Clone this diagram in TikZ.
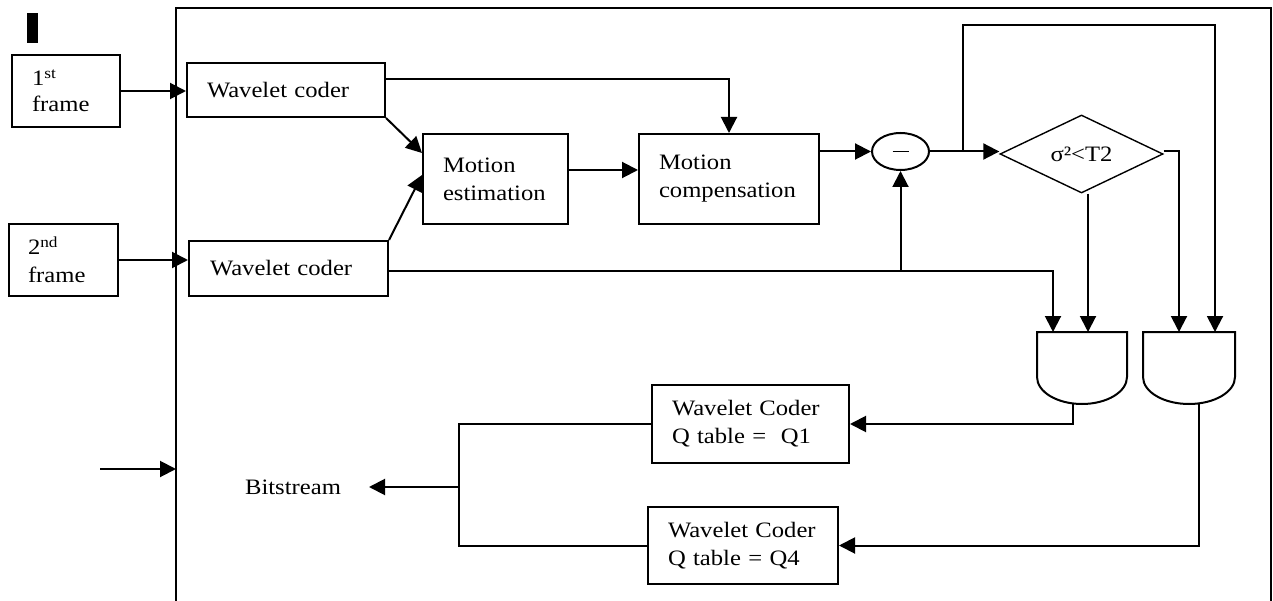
\documentclass[tikz,border=0pt]{standalone}
\usepackage{fontspec}
\setmainfont{Liberation Serif}[FakeStretch=1.12]
\usetikzlibrary{arrows.meta,shapes.geometric}
\begin{document}
\begin{tikzpicture}[x=1pt,y=-1pt,
  font=\fontsize{22}{28}\selectfont,
  line width=2pt,
  arr/.style={-{Triangle[length=16pt,width=16pt]}},
  blk/.style={draw, rectangle, align=left, inner ysep=0pt},
  gate/.style={draw, line width=2pt}]
\useasboundingbox (0,0) rectangle (1273,601);
% outer frame
\draw (176,601) -- (176,8) -- (1271,8) -- (1271,601);
\fill (27,13) rectangle (38,43);
% boxes
\node[blk, inner xsep=20pt, text width=68pt, minimum height=72pt] (f1) at (66,91) {\raisebox{-3pt}{1\textsuperscript{st}}\\[-2pt]\raisebox{-3pt}{frame}};
\node[blk, inner xsep=19pt, text width=71pt, minimum height=72pt] (f2) at (63.5,260) {2\textsuperscript{nd}\\frame};
\node[blk, inner xsep=20pt, text width=158pt, minimum height=54pt] (wc1) at (286,90) {Wavelet coder};
\node[blk, inner xsep=21pt, text width=157pt, minimum height=55pt] (wc2) at (288.5,268.5) {Wavelet coder};
\node[blk, inner xsep=20pt, text width=105pt, minimum height=90pt] (me) at (495.5,179) {Motion\\estimation};
\node[blk, inner xsep=20pt, text width=140pt, minimum height=90pt] (mc) at (729,179) {Motion\\compensation};
\node[draw, ellipse, minimum width=57pt, minimum height=37pt, inner sep=0pt] (sub) at (900.5,151.5) {\rule[0pt]{16pt}{1pt}};
\node[draw, diamond, minimum width=163pt, minimum height=78pt, inner sep=0pt, aspect=2.09, line width=1.4pt] (dia) at (1081.5,154) {σ²<T2};
\node[blk, inner xsep=20pt, text width=157pt, minimum height=78pt] (q1) at (750.5,424) {Wavelet Coder\\Q table = \ Q1};
\node[blk, inner xsep=20pt, text width=150pt, minimum height=77pt] (q4) at (743,545.5) {Wavelet Coder\\Q table = Q4};
\node[inner sep=0pt] (bits) at (293,487) {Bitstream};
% gates
\draw[gate] (1037,332) -- (1127,332) -- (1127,377) arc[start angle=0,end angle=-180,x radius=45pt,y radius=27pt] -- cycle;
\draw[gate] (1143,332) -- (1235,332) -- (1235,377) arc[start angle=0,end angle=-180,x radius=46pt,y radius=27pt] -- cycle;
\coordinate (g1a) at (1053,332);
\coordinate (g1b) at (1088,332);
\coordinate (g1o) at (1073,404);
\coordinate (g2a) at (1179,332);
\coordinate (g2b) at (1215,332);
\coordinate (g2o) at (1199,404);
\coordinate (j) at (963,152);
\coordinate (br) at (459,487);
\coordinate (btip) at (369,487);
\coordinate (lin) at (100,469);
\coordinate (lout) at (176,469);
% connectors
\draw[arr] (f1.east) -- (f1.east -| wc1.west);
\draw[arr] (f2.east) -- (f2.east -| wc2.west);
\draw[arr] (wc1.east |- 0,79) -| (mc.north);
\draw[arr] (wc1.south east) -- (me.west |- 0,153);
\draw[arr] (wc2.north east) -- (me.west |- 0,175);
\draw[arr] (me.east |- 0,170) -- (mc.west |- 0,170);
\draw[arr] (mc.east |- sub.west) -- (sub.west);
\draw[arr] (wc2.east |- 0,271) -| (sub.south);
\draw[arr] (wc2.east |- 0,271) -| (g1a);
\draw[arr] (sub.east) -- (sub.east -| dia.west);
\draw[arr] (j) |- (g2b |- 0,25) -- (g2b);
\draw[arr] (g1b |- dia.south) -- (g1b);
\draw[arr] (dia.east |- 0,151) -| (g2a);
\draw[arr] (g1o) |- (q1.east);
\draw[arr] (g2o) |- (q4.east);
\draw (q1.west) -| (br) |- (q4.west);
\draw[arr] (br) -- (btip);
\draw[arr] (lin) -- (lout);
\end{tikzpicture}
\end{document}
